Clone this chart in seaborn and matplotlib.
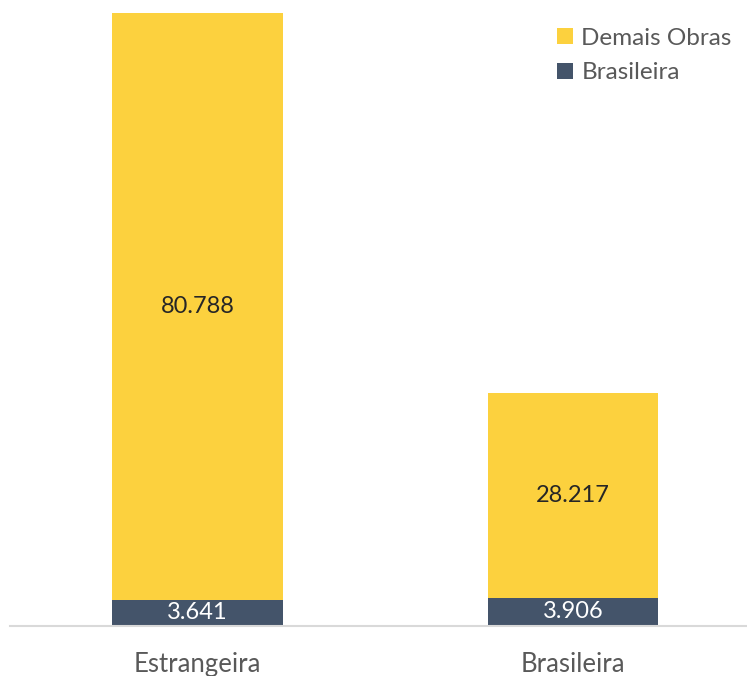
import matplotlib
matplotlib.use("Agg")
import matplotlib.pyplot as plt
import seaborn as sns
import pandas as pd
from matplotlib.patches import Patch

categories = ["Estrangeira", "Brasileira"]
brasileira_vals = [3.641, 3.906]
demais_vals = [80.788, 28.217]
bar_labels_bottom = ["3.641", "3.906"]
bar_labels_top = ["80.788", "28.217"]
legend_labels = ["Demais Obras", "Brasileira"]

YELLOW = "#FCD13E"
SLATE = "#44546A"

sns.set_theme(style="white")
plt.rcParams['font.family'] = ['Lato', 'DejaVu Sans']

fig = plt.figure(figsize=(7.47, 6.76), dpi=100)
ax = fig.add_axes([10/747, 50/676, 737/747, (626-13)/676])

df_b = pd.DataFrame({"cat": categories, "val": brasileira_vals})
df_d = pd.DataFrame({"cat": categories, "val": demais_vals})

sns.barplot(data=df_b, x="cat", y="val", color=SLATE, saturation=1, width=0.455, ax=ax, linewidth=0)
sns.barplot(data=df_d, x="cat", y="val", color=YELLOW, saturation=1, width=0.455, ax=ax,
            linewidth=0, bottom=brasileira_vals)

c_bottom, c_top = ax.containers[0], ax.containers[1]
ax.bar_label(c_bottom, labels=bar_labels_bottom, label_type="center", color="white", fontsize=17)
ax.bar_label(c_top, labels=bar_labels_top, label_type="center", color="#262626", fontsize=17)

ax.set_ylim(0, sum([brasileira_vals[0], demais_vals[0]]))
ax.set_xlim(-187.5/375.5, 549.5/375.5)
ax.set_xlabel("")
ax.set_ylabel("")
ax.set_yticks([])
for s in ["top", "right", "left"]:
    ax.spines[s].set_visible(False)
ax.spines["bottom"].set_color("#D9D9D9")
ax.spines["bottom"].set_linewidth(1.5)
ax.tick_params(axis="x", length=0, pad=19, labelsize=18.5, labelcolor="#595959")

handles = [Patch(facecolor=YELLOW, edgecolor="none"), Patch(facecolor=SLATE, edgecolor="none")]
leg = ax.legend(handles, legend_labels, loc="upper right", bbox_to_anchor=(1.009, 1.0115),
                frameon=False, fontsize=17.5, handlelength=0.65, handleheight=0.65,
                handletextpad=0.35, labelspacing=0.55)
for t in leg.get_texts():
    t.set_color("#595959")

fig.savefig("out.png", dpi=100)
